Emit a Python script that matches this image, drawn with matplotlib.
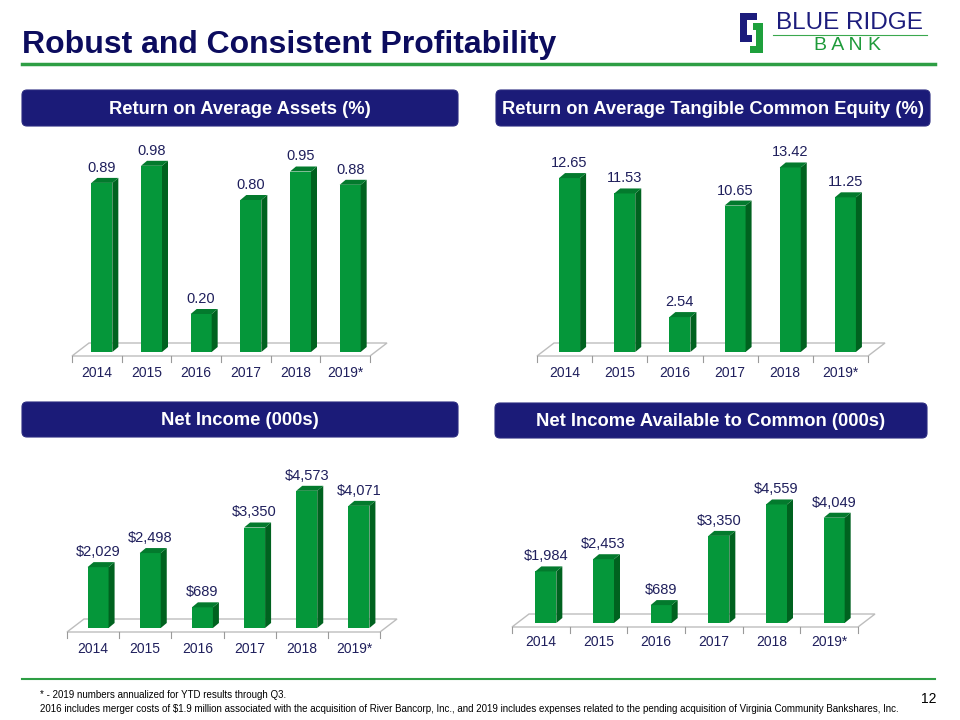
import matplotlib
matplotlib.use('Agg')
import matplotlib.pyplot as plt
from matplotlib.patches import Polygon, FancyBboxPatch, Rectangle

plt.rcParams['font.family'] = ['Liberation Sans', 'DejaVu Sans']

# data
years = ['2014', '2015', '2016', '2017', '2018', '2019*']
roa = [0.89, 0.98, 0.20, 0.80, 0.95, 0.88]
roatce = [12.65, 11.53, 2.54, 10.65, 13.42, 11.25]
net_income = [2029, 2498, 689, 3350, 4573, 4071]
ni_common = [1984, 2453, 689, 3350, 4559, 4049]

titles = ['Return on Average Assets (%)', 'Return on Average Tangible Common Equity (%)',
          'Net Income (000s)', 'Net Income Available to Common (000s)']

NAVY = '#1b1b78'
TXT = '#1f1f5c'
GREEN = '#2e9e44'
FRONT = '#05973a'
SIDE = '#00621f'
TOP = '#037a2d'

W, H = 960, 720
fig = plt.figure(figsize=(9.6, 7.2), dpi=100)


def bar_chart(vals, fmt, left, right, base, k, label_y):
    # left/right: floor front edges in px, base: bar bottom px, k: px per unit
    n = len(vals)
    slot = (right - left) / n
    top_px = 230
    ax = fig.add_axes([left / W, 1 - base / H, (right - left) / W, top_px / H])
    ax.set_xlim(-0.5, n - 0.5)
    ax.set_ylim(0, top_px / k)
    ax.axis('off')
    ux = 1 / slot  # data units per px
    uy = 1 / k
    # floor
    f_front = -4 * uy
    f_back = 9 * uy
    fdx = 17 * ux
    floor = Polygon([(-0.5, f_front), (n - 0.5, f_front), (n - 0.5 + fdx, f_back),
                     (-0.5 + fdx, f_back)], closed=True, facecolor='white',
                    edgecolor='#bdbdbd', lw=1, clip_on=False, zorder=1)
    ax.add_patch(floor)
    for i in range(n + 1):
        ax.plot([i - 0.5, i - 0.5], [f_front, f_front - 6 * uy], color='#9a9a9a',
                lw=0.8, clip_on=False, zorder=1)
    bw = 21 * ux
    ddx = 6 * ux
    ddy = 5 * uy
    for i, v in enumerate(vals):
        x0 = i + 5 * ux - bw / 2
        x1 = x0 + bw
        ax.add_patch(Rectangle((x0, 0), bw, v, facecolor=FRONT, edgecolor='none',
                               zorder=3, clip_on=False))
        ax.add_patch(Polygon([(x1, 0), (x1 + ddx, ddy), (x1 + ddx, v + ddy), (x1, v)],
                             closed=True, facecolor=SIDE, edgecolor='none', zorder=3,
                             clip_on=False))
        ax.add_patch(Polygon([(x0, v), (x1, v), (x1 + ddx, v + ddy), (x0 + ddx, v + ddy)],
                             closed=True, facecolor=TOP, edgecolor='none', zorder=3,
                             clip_on=False))
        ax.text((x0 + x1) / 2, v + ddy + 3 * uy, fmt(v), ha='center', va='bottom',
                fontsize=10.5, color=TXT, zorder=4)
        ax.text(i, (base - label_y) * uy, years[i], ha='center', va='center',
                fontsize=10, color=TXT, clip_on=False)
    return ax


bar_chart(roa, lambda v: '%.2f' % v, 72, 370, 352, 190, 373)
bar_chart(roatce, lambda v: '%.2f' % v, 537, 868, 352, 13.75, 373)
bar_chart(net_income, lambda v: '${:,.0f}'.format(v), 67, 380, 628, 0.0300, 649)
bar_chart(ni_common, lambda v: '${:,.0f}'.format(v), 512, 858, 623, 0.0260, 642)

# slide decorations in pixel coords
deco = fig.add_axes([0, 0, 1, 1], zorder=-1)
deco.set_xlim(0, W)
deco.set_ylim(H, 0)
deco.axis('off')

deco.text(22, 45, 'Robust and Consistent Profitability', fontsize=23, fontweight='bold',
          color='#0c0c5e', va='center', ha='left')
deco.plot([22, 935], [63.5, 63.5], color=GREEN, lw=2.5)

# header pills
pills = [(22, 90, 436, 36), (496, 90, 434, 36), (22, 402, 436, 35), (495, 403, 432, 35)]
for (x, y, w, h), t in zip(pills, titles):
    deco.add_patch(FancyBboxPatch((x, y), w, h, boxstyle='round,pad=0,rounding_size=5',
                                  facecolor=NAVY, edgecolor='#2a2a80', lw=0.8))
    deco.text(x + w / 2, y + h / 2 + 1, t, color='white', fontsize=13.2, fontweight='bold',
              ha='center', va='center')

# logo
deco.add_patch(Polygon([(740, 13), (757, 13), (757, 20), (747, 20), (747, 35), (752, 35),
                        (752, 42), (740, 42)], closed=True, facecolor='#1c1c7c',
                       edgecolor='none'))
deco.add_patch(Polygon([(753, 23), (763, 23), (763, 53), (750, 53), (750, 46), (756, 46),
                        (756, 30), (753, 30)], closed=True, facecolor='#1ea03c',
                       edgecolor='none'))
deco.text(776, 23, 'BLUE RIDGE', fontsize=17.5, color='#1c1c7c', va='center', ha='left')
deco.plot([773, 927], [35, 35], color='#3aa84e', lw=0.8)
deco.text(848, 46, 'B A N K', fontsize=14, color='#1e9a3a', va='center', ha='center')

# footer
deco.plot([22, 935], [679, 679], color=GREEN, lw=1.5)
deco.text(40, 695, '* - 2019 numbers annualized for YTD results through Q3.', fontsize=7,
          color='black', va='center', ha='left')
deco.text(40, 709, '2016 includes merger costs of $1.9 million associated with the acquisition '
          'of River Bancorp, Inc., and 2019 includes expenses related to the pending '
          'acquisition of Virginia Community Bankshares, Inc.', fontsize=7,
          color='black', va='center', ha='left')
deco.text(937, 699, '12', fontsize=10, color='black', va='center', ha='right')

fig.savefig('out.png', dpi=100)
